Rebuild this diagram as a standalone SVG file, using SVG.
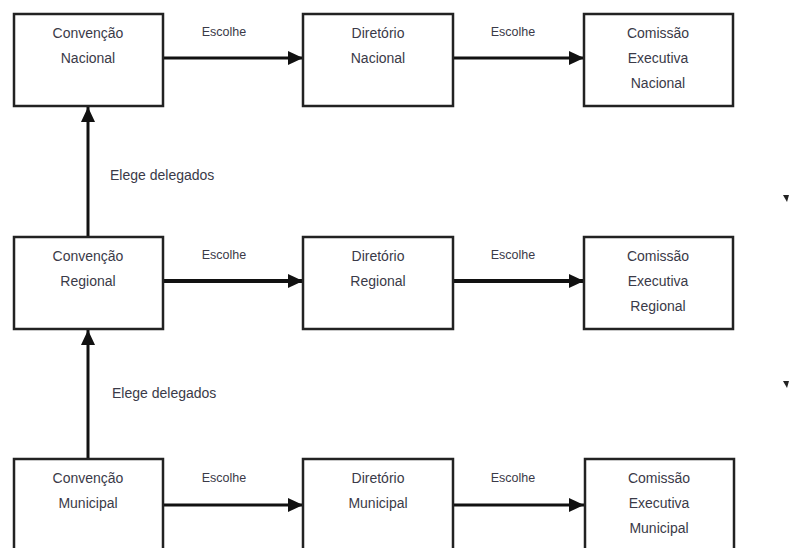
<svg xmlns="http://www.w3.org/2000/svg" width="789" height="548" viewBox="0 0 789 548">
<style>
.box{fill:#fff;stroke:#222;stroke-width:2.5}
.t{font-family:"Liberation Sans",Arial,sans-serif;font-size:14px;fill:#3a3a48;text-anchor:middle}
.l{font-family:"Liberation Sans",Arial,sans-serif;font-size:12.5px;fill:#3a3a48;text-anchor:middle}
.e{font-family:"Liberation Sans",Arial,sans-serif;font-size:14px;fill:#3a3a48}
.c{stroke:#111;stroke-width:3;fill:none}
.c2{stroke:#111;stroke-width:4;fill:none}
</style>
<defs>
<marker id="ah" markerUnits="userSpaceOnUse" markerWidth="16" markerHeight="14" refX="15" refY="7" orient="auto">
<path d="M0,0 L15,7 L0,14 Z" fill="#111"/>
</marker>
</defs>
<rect width="789" height="548" fill="#fff"/>
<g id="connectors">
<line class="c" x1="163" y1="58" x2="303" y2="58" marker-end="url(#ah)"/>
<line class="c" x1="453" y1="58" x2="584" y2="58" marker-end="url(#ah)"/>
<line class="c2" x1="163" y1="281" x2="303" y2="281" marker-end="url(#ah)"/>
<line class="c2" x1="453" y1="281" x2="584" y2="281" marker-end="url(#ah)"/>
<line class="c" x1="163" y1="505" x2="303" y2="505" marker-end="url(#ah)"/>
<line class="c" x1="453" y1="505" x2="584" y2="505" marker-end="url(#ah)"/>
<line class="c" x1="88" y1="237" x2="88" y2="107" marker-end="url(#ah)"/>
<line class="c" x1="88" y1="459" x2="88" y2="330" marker-end="url(#ah)"/>
<text class="l" x="224" y="36">Escolhe</text>
<text class="l" x="513" y="36">Escolhe</text>
<text class="l" x="224" y="259">Escolhe</text>
<text class="l" x="513" y="259">Escolhe</text>
<text class="l" x="224" y="482">Escolhe</text>
<text class="l" x="513" y="482">Escolhe</text>
<text class="e" x="110" y="180">Elege delegados</text>
<text class="e" x="112" y="398">Elege delegados</text>
</g>
<g id="conv-nacional"><rect class="box" x="14" y="14" width="149" height="92"/><text class="t" x="88" y="38">Convenção</text><text class="t" x="88" y="63">Nacional</text></g>
<g id="dir-nacional"><rect class="box" x="303" y="14" width="150" height="92"/><text class="t" x="378" y="38">Diretório</text><text class="t" x="378" y="63">Nacional</text></g>
<g id="com-nacional"><rect class="box" x="584" y="14" width="149" height="92"/><text class="t" x="658" y="38">Comissão</text><text class="t" x="658" y="63">Executiva</text><text class="t" x="658" y="88">Nacional</text></g>
<g id="conv-regional"><rect class="box" x="14" y="237" width="149" height="92"/><text class="t" x="88" y="261">Convenção</text><text class="t" x="88" y="286">Regional</text></g>
<g id="dir-regional"><rect class="box" x="303" y="237" width="150" height="92"/><text class="t" x="378" y="261">Diretório</text><text class="t" x="378" y="286">Regional</text></g>
<g id="com-regional"><rect class="box" x="584" y="237" width="149" height="92"/><text class="t" x="658" y="261">Comissão</text><text class="t" x="658" y="286">Executiva</text><text class="t" x="658" y="311">Regional</text></g>
<g id="conv-municipal"><rect class="box" x="14" y="459" width="149" height="95"/><text class="t" x="88" y="483">Convenção</text><text class="t" x="88" y="508">Municipal</text></g>
<g id="dir-municipal"><rect class="box" x="303" y="459" width="150" height="95"/><text class="t" x="378" y="483">Diretório</text><text class="t" x="378" y="508">Municipal</text></g>
<g id="com-municipal"><rect class="box" x="585" y="459" width="149" height="95"/><text class="t" x="659" y="483">Comissão</text><text class="t" x="659" y="508">Executiva</text><text class="t" x="659" y="533">Municipal</text></g>
<g id="edge-marks">
<path d="M783,195 L789,195 L787,202 Z" fill="#222"/>
<path d="M783,381 L789,381 L787,388 Z" fill="#222"/>
</g>
</svg>
